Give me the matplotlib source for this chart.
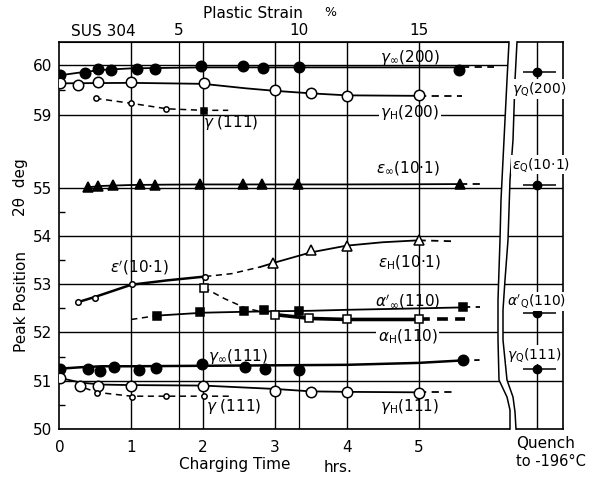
import numpy as np
import matplotlib
matplotlib.use('Agg')
import matplotlib.pyplot as plt
from matplotlib.lines import Line2D
from matplotlib.patches import Polygon

plt.rcParams['font.family'] = ['DejaVu Sans']
plt.rcParams['mathtext.fontset'] = 'dejavusans'

# ---------------- data ----------------
# gamma_inf(200) filled circles
g200_inf_t = [0.00, 0.36, 0.54, 0.72, 1.08, 1.33, 1.97, 2.56, 2.83, 3.34, 5.57]
g200_inf_v = [59.80, 59.83, 59.92, 59.90, 59.92, 59.92, 59.98, 59.98, 59.93, 59.95, 59.90]
g200_inf_fit_t = [0.0, 0.3, 0.6, 1.0, 2.0, 3.0, 4.0, 5.0, 5.6]
g200_inf_fit_v = [59.79, 59.85, 59.90, 59.93, 59.95, 59.95, 59.95, 59.95, 59.95]
g200_inf_ext_t = [5.6, 6.05]
g200_inf_ext_v = [59.95, 59.95]

# gamma_H(200) open circles
g200_H_t = [0.00, 0.26, 0.53, 1.00, 2.01, 3.00, 3.50, 4.00, 5.00]
g200_H_v = [59.63, 59.60, 59.65, 59.65, 59.63, 59.50, 59.43, 59.37, 59.40]
g200_H_fit_t = [0.0, 1.0, 2.0, 2.6, 3.0, 3.5, 4.0, 5.0]
g200_H_fit_v = [59.63, 59.64, 59.62, 59.53, 59.48, 59.43, 59.39, 59.38]
g200_H_ext_t = [5.0, 5.6]
g200_H_ext_v = [59.38, 59.38]

# gamma(111) small open circles, upper
g111_top_t = [0.51, 1.00, 1.49]
g111_top_v = [59.33, 59.23, 59.11]
g111_top_sq_t = [2.01]
g111_top_sq_v = [59.08]
g111_top_fit_t = [0.5, 1.0, 1.5, 2.0, 2.35]
g111_top_fit_v = [59.33, 59.23, 59.12, 59.09, 59.09]

# epsilon_inf(10.1) filled triangles
eps_inf_t = [0.40, 0.53, 0.74, 1.12, 1.33, 1.95, 2.56, 2.82, 3.32, 5.58]
eps_inf_v = [55.03, 55.11, 55.15, 55.19, 55.17, 55.19, 55.20, 55.19, 55.19, 55.21]
eps_inf_fit_t = [0.4, 0.6, 1.0, 1.5, 2.0, 3.0, 4.0, 5.0, 5.58]
eps_inf_fit_v = [55.03, 55.10, 55.15, 55.17, 55.18, 55.18, 55.18, 55.19, 55.20]
eps_inf_ext_t = [5.58, 5.85]
eps_inf_ext_v = [55.20, 55.20]

# epsilon'(10.1) small open circles
eps_p_t = [0.26, 0.50, 1.01, 2.03]
eps_p_v = [52.63, 52.72, 53.00, 53.16]
eps_p_fit_t = [0.26, 0.5, 1.0, 1.5, 2.03]
eps_p_fit_v = [52.63, 52.74, 52.99, 53.08, 53.16]
eps_p_ext_t = [2.03, 2.4, 2.8]
eps_p_ext_v = [53.16, 53.22, 53.36]

# epsilon_H(10.1) open triangles
eps_H_t = [2.98, 3.50, 4.00, 5.00]
eps_H_v = [53.43, 53.70, 53.79, 53.92]
eps_H_fit_t = [2.8, 3.0, 3.5, 4.0, 4.5, 5.0]
eps_H_fit_v = [53.36, 53.45, 53.66, 53.80, 53.87, 53.91]
eps_H_ext_t = [5.0, 5.5]
eps_H_ext_v = [53.91, 53.89]

# alpha'_inf(110) filled squares
alp_inf_t = [1.36, 1.96, 2.57, 2.85, 3.34, 5.62]
alp_inf_v = [52.35, 52.42, 52.44, 52.46, 52.44, 52.52]
alp_inf_pre_t = [1.0, 1.36]
alp_inf_pre_v = [52.27, 52.35]
alp_inf_fit_t = [1.36, 2.0, 2.6, 3.0, 3.5, 4.0, 5.0, 5.62]
alp_inf_fit_v = [52.35, 52.41, 52.43, 52.44, 52.45, 52.47, 52.50, 52.52]
alp_inf_ext_t = [5.62, 5.85]
alp_inf_ext_v = [52.52, 52.52]

# alpha_H(110) open squares
alp_H_t = [2.01, 3.00, 3.48, 4.00, 5.00]
alp_H_v = [52.93, 52.37, 52.29, 52.27, 52.27]
alp_H_pre_t = [2.01, 2.3, 2.6, 3.0]
alp_H_pre_v = [52.93, 52.70, 52.50, 52.37]
alp_H_fit_t = [3.0, 3.5, 4.0, 5.0]
alp_H_fit_v = [52.37, 52.29, 52.27, 52.27]
alp_H_ext_t = [5.0, 5.65]
alp_H_ext_v = [52.27, 52.27]

# gamma_inf(111) filled circles
g111_inf_t = [0.01, 0.39, 0.56, 0.76, 1.11, 1.35, 1.98, 2.58, 2.86, 3.34, 5.62]
g111_inf_v = [51.25, 51.24, 51.21, 51.29, 51.22, 51.27, 51.34, 51.28, 51.25, 51.23, 51.44]
g111_inf_fit_t = [0.0, 0.3, 0.6, 1.0, 2.0, 3.0, 4.0, 5.0, 5.6]
g111_inf_fit_v = [51.25, 51.28, 51.30, 51.30, 51.31, 51.32, 51.33, 51.37, 51.42]
g111_inf_ext_t = [5.6, 5.85]
g111_inf_ext_v = [51.42, 51.43]

# gamma_H(111) open circles
g111_H_t = [0.01, 0.28, 0.53, 1.00, 2.00, 3.00, 3.50, 4.00, 5.00]
g111_H_v = [51.05, 50.90, 50.90, 50.89, 50.89, 50.78, 50.76, 50.76, 50.75]
g111_H_fit_t = [0.0, 0.3, 0.6, 1.0, 2.0, 3.0, 3.5, 4.0, 5.0]
g111_H_fit_v = [51.06, 50.96, 50.92, 50.91, 50.90, 50.83, 50.78, 50.77, 50.76]
g111_H_ext_t = [5.0, 5.5]
g111_H_ext_v = [50.76, 50.76]

# gamma(111) small open circles, lower
g111_bot_t = [0.52, 1.01, 1.49, 2.01]
g111_bot_v = [50.75, 50.66, 50.68, 50.68]
g111_bot_fit_t = [0.35, 0.52, 1.0, 1.5, 2.0, 2.4]
g111_bot_fit_v = [50.85, 50.76, 50.68, 50.68, 50.68, 50.68]

# quench to -196 C
quench_labels = [r'$\gamma_{\rm Q}$(200)', r'$\varepsilon_{\rm Q}$(10·1)',
                 r"$\alpha'_{\rm Q}$(110)", r'$\gamma_{\rm Q}$(111)']
quench_v = [59.86, 55.17, 52.41, 51.24]

x_ticks = [0, 1, 2, 3, 4, 5]
strain_ticks = [5, 10, 15]
y_ticks = [50, 51, 52, 53, 54, 55, 59, 60]

# ---------------- figure ----------------
W, H = 589, 478
fig = plt.figure(figsize=(W / 100, H / 100), dpi=100)

def fx(px):
    return px / W

def fy(py):
    return 1 - py / H

ax = fig.add_axes([fx(59), fy(429), fx(510) - fx(59), fy(42) - fy(429)])
axq = fig.add_axes([fx(510), fy(429), fx(563) - fx(510), fy(42) - fy(429)])

# broken y scale: 59..55 compressed
vp = [40, 55, 59, 70]
up = [40, 55, 56.511, 56.511 + 11 * 1.035]
fwd = lambda v: np.interp(v, vp, up)
inv = lambda u: np.interp(u, up, vp)
for a in (ax, axq):
    a.set_yscale('function', functions=(fwd, inv))
    a.set_ylim(50, 60.458)

ax.set_xlim(-0.007, 6.274)
axq.set_xlim(0, 1)

K = 'black'
LW = 1.3
dash = (0, (4, 3))

# grid
ax.set_yticks(y_ticks)
ax.set_yticklabels([str(v) for v in y_ticks])
ax.set_yticks([50.5, 51.5, 52.5, 53.5, 54.5, 59.5], minor=True)
ax.grid(axis='y', color=K, lw=1.0)
ax.set_xticks(x_ticks)
ax.set_xticklabels([str(v) for v in x_ticks])
for t in x_ticks[1:]:
    ax.axvline(t, color=K, lw=1.0, zorder=3.5)
for s in strain_ticks[:2]:
    ax.axvline(s / 3, color=K, lw=0.9, zorder=3.5)
ax.tick_params(axis='both', which='major', length=0, labelsize=11)
ax.tick_params(axis='x', pad=8)
ax.tick_params(axis='y', pad=5)
ax.tick_params(axis='y', which='minor', direction='in', length=4, width=1)
ax.spines['right'].set_visible(False)
for sp in ax.spines.values():
    sp.set_linewidth(1.2)

sec = ax.secondary_xaxis('top', functions=(lambda t: 3 * t, lambda s: s / 3))
sec.set_xticks(strain_ticks)
sec.set_xticklabels([str(s) for s in strain_ticks])
sec.tick_params(length=0, labelsize=11, pad=3)

def line(tt, vv, ls='-', lw=LW):
    ax.plot(tt, vv, color=K, lw=lw, ls=ls, zorder=4)

def pts(tt, vv, marker, filled, ms):
    ax.plot(tt, vv, ls='none', marker=marker, ms=ms,
            mfc=K if filled else 'white', mec=K, mew=1.1, zorder=5)

# curves
line(g200_inf_fit_t, g200_inf_fit_v); line(g200_inf_ext_t, g200_inf_ext_v, dash)
line(g200_H_fit_t, g200_H_fit_v); line(g200_H_ext_t, g200_H_ext_v, dash)
line(g111_top_fit_t, g111_top_fit_v, dash, 1.1)
line(eps_inf_fit_t, eps_inf_fit_v); line(eps_inf_ext_t, eps_inf_ext_v, dash)
line(eps_p_fit_t, eps_p_fit_v, '-', 1.8); line(eps_p_ext_t, eps_p_ext_v, dash, 1.1)
line(eps_H_fit_t, eps_H_fit_v); line(eps_H_ext_t, eps_H_ext_v, dash)
line(alp_inf_pre_t, alp_inf_pre_v, dash, 1.1)
line(alp_inf_fit_t, alp_inf_fit_v); line(alp_inf_ext_t, alp_inf_ext_v, dash)
line(alp_H_pre_t, alp_H_pre_v, dash, 1.1)
line(alp_H_fit_t, alp_H_fit_v, '-', 2.6); line(alp_H_ext_t, alp_H_ext_v, (0, (3, 2)), 2.6)
line(g111_inf_fit_t, g111_inf_fit_v, '-', 1.8); line(g111_inf_ext_t, g111_inf_ext_v, dash)
line(g111_H_fit_t, g111_H_fit_v); line(g111_H_ext_t, g111_H_ext_v, dash)
line(g111_bot_fit_t, g111_bot_fit_v, dash, 1.1)

# markers
pts(g200_inf_t, g200_inf_v, 'o', True, 7.5)
pts(g200_H_t, g200_H_v, 'o', False, 7.5)
pts(g111_top_t, g111_top_v, 'o', False, 3.8)
pts(g111_top_sq_t, g111_top_sq_v, 's', True, 4.5)
pts(eps_inf_t, eps_inf_v, '^', True, 7.5)
pts(eps_p_t, eps_p_v, 'o', False, 4)
pts(eps_H_t, eps_H_v, '^', False, 7)
pts(alp_inf_t, alp_inf_v, 's', True, 6)
pts(alp_H_t, alp_H_v, 's', False, 6)
pts(g111_inf_t, g111_inf_v, 'o', True, 7.5)
pts(g111_H_t, g111_H_v, 'o', False, 7.5)
pts(g111_bot_t, g111_bot_v, 'o', False, 3.8)

# curve labels
lab = dict(fontsize=11, ha='center', va='center', zorder=3)
wb = dict(facecolor='white', edgecolor='none', pad=1)
ax.text(4.88, 60.14, r'$\gamma_\infty$(200)', **lab)
ax.text(4.88, 59.04, r'$\gamma_{\rm H}$(200)', bbox=wb, **lab)
ax.text(2.39, 58.56, r'$\gamma$ (111)', **lab)
ax.text(4.85, 56.10, r'$\varepsilon_\infty$(10·1)', **lab)
ax.text(1.12, 53.34, r"$\varepsilon'$(10·1)", **lab)
ax.text(4.88, 53.45, r'$\varepsilon_{\rm H}$(10·1)', **lab)
ax.text(4.85, 52.64, r"$\alpha'_\infty$(110)", **lab)
ax.text(4.85, 51.92, r'$\alpha_{\rm H}$(110)', bbox=wb, **lab)
ax.text(2.49, 51.50, r'$\gamma_\infty$(111)', **lab)
ax.text(2.43, 50.47, r'$\gamma$ (111)', **lab)
ax.text(4.87, 50.47, r'$\gamma_{\rm H}$(111)', **lab)

# quench panel
qx = 0.51
axq.set_yticks([51, 52, 53, 54, 55, 59])
axq.set_xticks([])
axq.tick_params(left=False, labelleft=False, length=0)
axq.yaxis.set_minor_locator(matplotlib.ticker.NullLocator())
axq.grid(axis='y', color=K, lw=1.0)
axq.spines['left'].set_visible(False)
for sp in axq.spines.values():
    sp.set_linewidth(1.2)
axq.axvline(qx, color=K, lw=1.0, zorder=3.5)
axq.hlines(quench_v, qx - 0.27, qx + 0.36, color=K, lw=1.1, zorder=4)
axq.plot([qx] * len(quench_v), quench_v, 'o', color=K, ms=6, zorder=5)
q_pos = [(0.04, 59.52), (0.04, 56.26), (-0.06, 52.64), (-0.06, 51.54)]
for (x, y), s in zip(q_pos, quench_labels):
    axq.text(x, y, s, fontsize=10, ha='left', va='center', zorder=6,
             bbox=dict(facecolor='white', edgecolor='none', pad=0.5), clip_on=False)

# wavy break
L = [(509, 42), (507, 80), (505, 120), (503, 160), (501, 200), (500, 240), (498, 300),
     (498, 340), (499, 380), (507, 397), (510, 410), (510, 429)]
R = [(517, 42), (515, 80), (513, 140), (510, 180), (508, 240), (505, 280), (503, 310),
     (503, 340), (507, 380), (513, 397), (515, 412), (516, 429)]
polyL = [(fx(x), fy(y)) for x, y in L]
polyR = [(fx(x), fy(y)) for x, y in R]
polyL[0] = (polyL[0][0], fy(40)); polyL[-1] = (polyL[-1][0], fy(431))
polyR[0] = (polyR[0][0], fy(40)); polyR[-1] = (polyR[-1][0], fy(431))
poly = Polygon(polyL + polyR[::-1], closed=True, facecolor='white', edgecolor='none',
               transform=fig.transFigure, zorder=2.6, clip_on=False)
axq.add_patch(poly)
for curve in (L, R):
    ln = Line2D([fx(x) for x, y in curve], [fy(y) for x, y in curve], color=K, lw=1.1,
                transform=fig.transFigure, zorder=2.7, clip_on=False)
    axq.add_line(ln)

# texts
fig.text(fx(253), fy(14), 'Plastic Strain', fontsize=11, ha='center', va='center')
fig.text(fx(330), fy(12), '%', fontsize=9, ha='center', va='center')
fig.text(fx(103), fy(32), 'SUS 304', fontsize=11, ha='center', va='center')
fig.text(fx(235), fy(465), 'Charging Time', fontsize=11, ha='center', va='center')
fig.text(fx(338), fy(467), 'hrs.', fontsize=11, ha='center', va='center')
fig.text(fx(516), fy(444), 'Quench', fontsize=11, ha='left', va='center')
fig.text(fx(516), fy(462), 'to -196°C', fontsize=10.5, ha='left', va='center')
fig.text(fx(21), fy(301), 'Peak Position', fontsize=11, rotation=90, ha='center', va='center')
fig.text(fx(21), fy(187), '2θ  deg', fontsize=11, rotation=90, ha='center', va='center')

fig.savefig('out.png', dpi=100)
